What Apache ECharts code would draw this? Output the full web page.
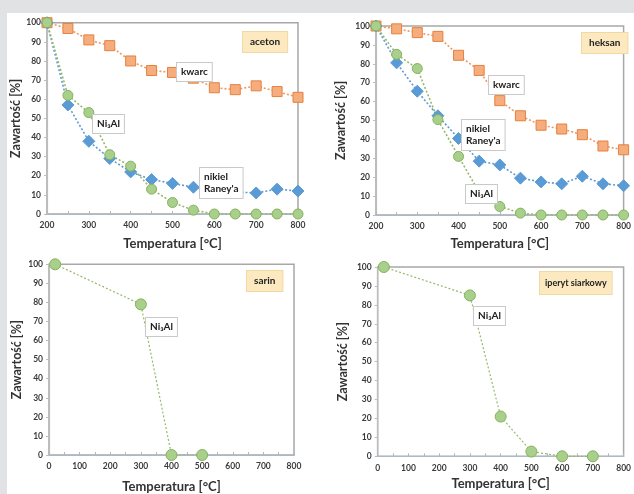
<!DOCTYPE html>
<html><head><meta charset="utf-8">
<script src="https://cdn.jsdelivr.net/npm/echarts@6/dist/echarts.min.js"></script>
<style>html,body{margin:0;padding:0;background:#fff}#c{width:634px;height:494px}</style>
</head><body><div id="c"></div>
<script>
// ---- data ----
const tempsTop = [200,250,300,350,400,450,500,550,600,650,700,750,800];
const acetonKwarc  = [100,97,91,88,80,75,74,71,66,65,67,64,61];
const acetonRaney  = [100,57,38,29,22,18,16,14,12,11.5,11,13,12];
const acetonNi3Al  = [100,62,53,31,25,13,6,2,0,0,0,0,0];
const heksanKwarc  = [100,98.5,96.5,94.5,84.5,76.5,60.5,52.5,47.5,45.5,42.5,36.5,34.5];
const heksanRaney  = [100,80.5,65.5,52.5,40.5,28.5,26.5,19.5,17.5,16.5,20.5,16.5,15.5];
const heksanNi3Al  = [100,85,77.5,50.5,31,12,4.5,1,0,0,0,0,0];
const sarinTemps   = [20,300,400,500];
const sarinNi3Al   = [100,79,0,0];
const iperytTemps  = [20,300,400,500,600,700];
const iperytNi3Al  = [100,85,21,2.5,0,0];
const panelNames   = ['aceton','heksan','sarin','iperyt siarkowy'];
const xRanges      = [[200,800],[200,800],[0,800],[0,800]];

const FONT = 'Lato, "Liberation Sans", sans-serif';
const pairs = (xs, ys) => xs.map((x,i)=>[x, ys[i]]);

const grids = [
  {left:47, top:22.7, width:251, height:191.3},
  {left:376, top:26, width:252.7, height:189},
  {left:49, top:264.3, width:245, height:195.4},
  {left:377.7, top:267, width:251, height:189.3}
].map(g => Object.assign({show:true, borderColor:'#a8a8a8', borderWidth:1.5, backgroundColor:'transparent'}, g));

const xNameGaps = [23, 22, 25, 21];
const yNameGaps = [23, 29, 26, 28];

const xAxes = xRanges.map((r,i)=>({
  type:'value', gridIndex:i, min:r[0], max:r[1], interval:100,
  name:'Temperatura [°C]', nameLocation:'middle', nameGap:xNameGaps[i],
  nameTextStyle:{fontFamily:FONT, fontSize:13, fontWeight:'bold', color:'#333'},
  axisLine:{show:true, onZero:false, lineStyle:{color:'#a9b9c9', width:1.2}},
  axisTick:{show:true, inside:true, length:3, lineStyle:{color:'#a9b9c9'}},
  minorTick:{show:true, splitNumber:2, length:3, lineStyle:{color:'#a9b9c9'}},
  splitLine:{show:false},
  axisLabel:{fontFamily:FONT, fontSize:8.5, fontWeight:'bold', color:'#3a3a3a', margin:7}
}));
const yAxes = [0,1,2,3].map(i=>({
  type:'value', gridIndex:i, min:0, max:100, interval:10,
  name:'Zawartość [%]', nameLocation:'middle', nameGap:yNameGaps[i],
  nameTextStyle:{fontFamily:FONT, fontSize:12.5, fontWeight:'bold', color:'#333'},
  axisLine:{show:true, lineStyle:{color:'#bdbdbd', width:1.2}},
  axisTick:{show:true, length:3, lineStyle:{color:'#bdbdbd'}},
  splitLine:{show:false},
  axisLabel:{fontFamily:FONT, fontSize:8.5, fontWeight:'bold', color:'#3a3a3a', margin:6}
}));

const ORANGE = {line:'#eb9a63', fill:'#f6ad7d', border:'#e5803f'};
const BLUE   = {line:'#5f9bd3', fill:'#5b9bd5', border:'#5b9bd5'};
const GREEN  = {line:'#95b86a', fill:'#a9cf8c', border:'#86b25a'};

function series(name, xs, ys, gi, c, symbol, size, lw){
  return {
    name, type:'line', xAxisIndex:gi, yAxisIndex:gi, data:pairs(xs,ys),
    symbol, symbolSize:size, showSymbol:true,
    lineStyle:{color:c.line, width:lw||1.6, type:[2,2]},
    itemStyle:{color:c.fill, borderColor:c.border, borderWidth:1},
    z:3
  };
}

const seriesList = [
  series('kwarc', tempsTop, acetonKwarc, 0, ORANGE, 'rect', 10),
  series('Raney', tempsTop, acetonRaney, 0, BLUE, 'diamond', 12),
  series('Ni3Al', tempsTop, acetonNi3Al, 0, GREEN, 'circle', 10),
  series('kwarc', tempsTop, heksanKwarc, 1, ORANGE, 'rect', 10),
  series('Raney', tempsTop, heksanRaney, 1, BLUE, 'diamond', 12),
  series('Ni3Al', tempsTop, heksanNi3Al, 1, GREEN, 'circle', 10),
  series('Ni3Al', sarinTemps, sarinNi3Al, 2, GREEN, 'circle', 11, 1.2),
  series('Ni3Al', iperytTemps, iperytNi3Al, 3, GREEN, 'circle', 11, 1.2)
];

function box(text, x, y, opts){
  return {
    type:'text', x, y, z:100,
    style:Object.assign({
      text, font:'bold 10px ' + FONT, fill:'#222',
      backgroundColor:'#ffffff', borderColor:'#c9c9c9', borderWidth:1,
      padding:[3,4,3,4], lineHeight:12
    }, opts||{})
  };
}
const tagStyle = {backgroundColor:'#fce9bf', borderColor:'#f1d9a4', padding:[4,7,4,7], font:'bold 10px ' + FONT};

const graphics = [
  {type:'rect', shape:{x:0,y:0,width:634,height:13}, style:{fill:'#e1e2e4'}, z:-10},
  {type:'rect', shape:{x:0,y:0,width:7,height:494}, style:{fill:'#e1e2e4'}, z:-10},
  box(panelNames[0], 243, 32, tagStyle),
  box(panelNames[1], 582, 33, tagStyle),
  box(panelNames[2], 247, 271, tagStyle),
  box(panelNames[3], 540, 272, Object.assign({}, tagStyle, {padding:[5,5,5,5], font:'bold 9px ' + FONT})),
  box('kwarc', 177, 63),
  box('Ni₃Al', 93, 115),
  box('nikiel\nRaney\'a', 200, 168),
  box('kwarc', 489, 76),
  box('nikiel\nRaney\'a', 462, 120),
  box('Ni₃Al', 466, 185),
  box('Ni₃Al', 146, 318),
  box('Ni₃Al', 474, 307)
];

const chart = echarts.init(document.getElementById('c'), null, {renderer:'canvas'});
chart.setOption({
  backgroundColor:'#ffffff',
  animation:false,
  grid:grids, xAxis:xAxes, yAxis:yAxes,
  series:seriesList,
  graphic:graphics
});
</script></body></html>
